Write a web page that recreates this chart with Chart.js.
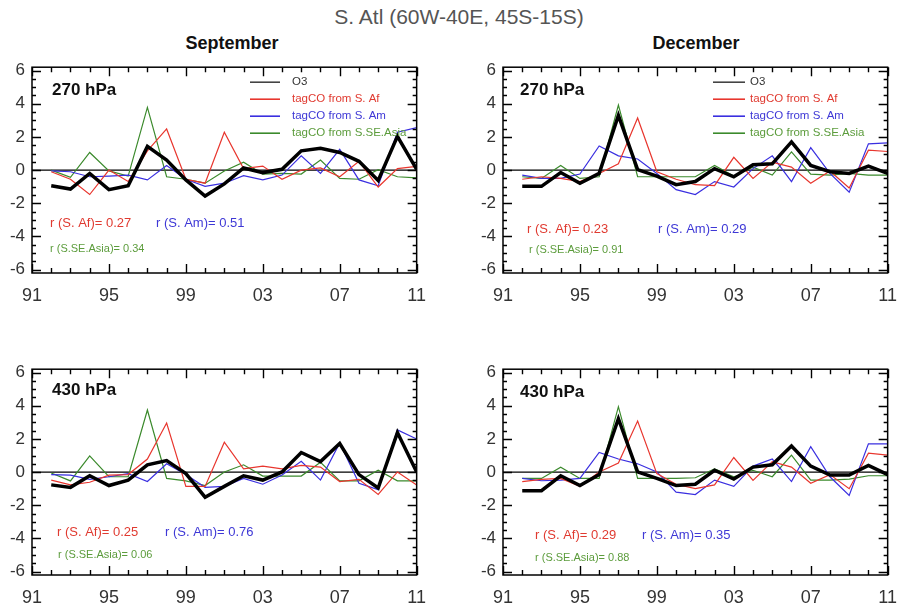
<!DOCTYPE html>
<html>
<head>
<meta charset="utf-8">
<script src="https://cdn.jsdelivr.net/npm/chart.js@4/dist/chart.umd.min.js"></script>
<style>
  html, body { margin: 0; padding: 0; background: #fff; }
  body { width: 898px; height: 611px; position: relative; overflow: hidden;
         font-family: "Liberation Sans", Arial, Helvetica, sans-serif; }
  .title { position: absolute; left: 0; width: 918px; top: 5px; text-align: center;
           font-size: 21px; color: #555; }
  .month { position: absolute; top: 33px; width: 200px; text-align: center;
           font-weight: bold; font-size: 18px; color: #111; }
  canvas { position: absolute; }
</style>
</head>
<body>
<div class="title">S. Atl (60W-40E, 45S-15S)</div>
<div class="month" style="left:132px">September</div>
<div class="month" style="left:596px">December</div>
<canvas id="c0"></canvas>
<canvas id="c1"></canvas>
<canvas id="c2"></canvas>
<canvas id="c3"></canvas>
<script>
// ---- data: anomalies, 1992-2011 ----
const years = [1992,1993,1994,1995,1996,1997,1998,1999,2000,2001,
               2002,2003,2004,2005,2006,2007,2008,2009,2010,2011];

// September, 270 hPa
const sep270O3   = [-0.94,-1.14,-0.20,-1.18,-0.94, 1.43, 0.61,-0.59,-1.56,-0.83, 0.13,-0.15, 0.05, 1.16, 1.31, 1.06, 0.53,-0.63, 2.03, 0.05];
const sep270Af   = [-0.10,-0.55,-1.47, 0.00,-0.69, 1.16, 2.48,-0.55,-0.79, 2.28, 0.09, 0.24,-0.55, 0.00, 0.13,-0.40, 0.53,-1.02, 0.09, 0.22];
const sep270Am   = [-0.05,-0.10,-0.40,-0.36,-0.30,-0.59, 0.28,-0.55,-0.98,-0.79,-0.34,-0.59,-0.30, 0.86,-0.20, 1.25,-0.59,-0.94, 2.28, 2.56];
const sep270Asia = [ 0.00,-0.44, 1.06,-0.05,-0.36, 3.78,-0.40,-0.55,-0.79,-0.05, 0.48,-0.24,-0.20,-0.24, 0.61,-0.50,-0.55, 0.03,-0.40,-0.47];

// December, 270 hPa
const dec270O3   = [-0.98,-0.98,-0.15,-0.79,-0.20, 3.29, 0.03,-0.36,-0.88,-0.69, 0.09,-0.40, 0.32, 0.38, 1.70, 0.28,-0.10,-0.20, 0.24,-0.20];
const dec270Af   = [-0.55,-0.40,-0.50,-0.69,-0.20, 0.38, 3.14,-0.10,-0.55,-0.88,-0.94, 0.77,-0.50, 0.48, 0.18,-0.79,-0.05,-1.08, 1.20, 1.12];
const dec270Am   = [-0.30,-0.50,-0.50,-0.24, 1.45, 0.86, 0.67,-0.20,-1.18,-1.47,-0.69,-1.02, 0.09, 0.86,-0.69, 1.35,-0.20,-1.33, 1.58, 1.64];
const dec270Asia = [-0.40,-0.50, 0.28,-0.50,-0.40, 3.92,-0.40,-0.40,-0.40,-0.40, 0.28,-0.36, 0.18,-0.30, 1.10,-0.24,-0.30,-0.20,-0.30,-0.30];

// September, 430 hPa
const sep430O3   = [-0.77,-0.92,-0.22,-0.81,-0.48, 0.44, 0.69,-0.09,-1.51,-0.86,-0.22,-0.48, 0.01, 1.18, 0.63, 1.72,-0.15,-0.96, 2.38, 0.01];
const sep430Af   = [-0.48,-0.77,-0.61,-0.18,-0.15, 0.79, 2.96,-0.86,-0.86, 1.80, 0.20, 0.36, 0.20, 0.40, 0.30,-0.57,-0.44,-1.35, 0.01,-0.77];
const sep430Am   = [-0.15,-0.18,-0.44,-0.28,-0.09,-0.57, 0.50,-0.15,-0.92,-0.86,-0.38,-0.73,-0.18, 0.65,-0.48, 1.76,-0.67,-1.06, 2.54, 1.99];
const sep430Asia = [-0.05,-0.53, 0.98,-0.28,-0.28, 3.74,-0.38,-0.53,-0.81, 0.01, 0.44,-0.24,-0.24,-0.24, 0.59,-0.53,-0.53, 0.11,-0.53,-0.53];

// December, 430 hPa
const dec430O3   = [-1.12,-1.12,-0.22,-0.81,-0.15, 3.22, 0.01,-0.38,-0.81,-0.73, 0.11,-0.42, 0.30, 0.44, 1.57, 0.36,-0.18,-0.18, 0.40,-0.15];
const dec430Af   = [-0.57,-0.44,-0.38,-0.86, 0.01, 0.55, 3.08,-0.09,-0.73,-1.00,-0.77, 0.88,-0.50, 0.63, 0.30,-0.67,-0.15,-1.00, 1.14, 1.02];
const dec430Am   = [-0.38,-0.52,-0.48,-0.38, 1.18, 0.79, 0.50, 0.01,-1.21,-1.35,-0.48,-0.86, 0.36, 0.79,-0.57, 1.53,-0.28,-1.41, 1.70, 1.70];
const dec430Asia = [-0.38,-0.38, 0.30,-0.38,-0.38, 3.94,-0.38,-0.38,-0.38,-0.34, 0.20,-0.28, 0.11,-0.28, 1.02,-0.48,-0.48,-0.42,-0.22,-0.22];

// correlation coefficients with O3, per panel (Sep 270, Dec 270, Sep 430, Dec 430)
const corrAf   = [0.27, 0.23, 0.25, 0.29];
const corrAm   = [0.51, 0.29, 0.76, 0.35];
const corrAsia = [0.34, 0.91, 0.06, 0.88];

const levelLabels = ['270 hPa', '270 hPa', '430 hPa', '430 hPa'];
const seriesNames = ['O3', 'tagCO from S. Af', 'tagCO from S. Am', 'tagCO from S.SE.Asia'];
const xTicks = [1991, 1995, 1999, 2003, 2007, 2011];
const yTicks = [-6, -4, -2, 0, 2, 4, 6];

// ---- appearance ----
const FONT = '"Liberation Sans", Arial, Helvetica, sans-serif';
const lineColors = ['#000000', '#e8362e', '#3a2fe0', '#3b8a2c'];
const textColors = ['#333333', '#e03a30', '#3e38d6', '#5c9c3c'];
const lineWidths = [3.5, 1.2, 1.2, 1.2];

const AXIS_W = 32, PAD_TOP = 10, PAD_RIGHT = 16, AXIS_H = 36;
const BOX_W = 390, BOX_H = 213;

// plot-box origin and text placement (relative to the box) for each panel
const panels = [
  { box: [32, 60],  series: [sep270O3, sep270Af, sep270Am, sep270Asia], legend: { line: [218, 248], text: 260 },
    level: [20, 23], rAf: [18, 156], rAm: [124, 156], rAsia: [18, 182] },
  { box: [503, 60], series: [dec270O3, dec270Af, dec270Am, dec270Asia], legend: { line: [210, 242], text: 247 },
    level: [17, 23], rAf: [24, 162], rAm: [155, 162], rAsia: [26, 183] },
  { box: [32, 362], series: [sep430O3, sep430Af, sep430Am, sep430Asia], legend: null,
    level: [20, 21], rAf: [25, 163], rAm: [133, 163], rAsia: [26, 186] },
  { box: [503, 362], series: [dec430O3, dec430Af, dec430Am, dec430Asia], legend: null,
    level: [17, 23], rAf: [32, 166], rAm: [139, 166], rAsia: [32, 189] }
];

// box, inward tick marks, zero line, legend and annotations
const framePlugin = {
  id: 'frame',
  beforeDatasetsDraw(chart) {
    const { ctx, chartArea: a, scales: { y } } = chart;
    const y0 = y.getPixelForValue(0);
    ctx.save();
    ctx.strokeStyle = '#000';
    ctx.lineWidth = 1.4;
    ctx.beginPath();
    ctx.moveTo(a.left, y0);
    ctx.lineTo(a.right, y0);
    ctx.stroke();
    ctx.restore();
  },
  afterDraw(chart, args, opts) {
    const { ctx, chartArea: a, scales: { x, y } } = chart;
    ctx.save();
    ctx.strokeStyle = '#000';
    ctx.lineWidth = 1.5;
    ctx.strokeRect(a.left, a.top, a.right - a.left, a.bottom - a.top);

    ctx.beginPath();
    for (let yr = 1991; yr <= 2011; yr++) {
      const px = Math.round(x.getPixelForValue(yr)) + 0.5;
      const len = (yr - 1991) % 4 === 0 ? 9 : 5;
      ctx.moveTo(px, a.bottom); ctx.lineTo(px, a.bottom - len);
      ctx.moveTo(px, a.top);    ctx.lineTo(px, a.top + len);
    }
    for (let v = -6; v <= 6; v += 0.5) {
      const py = Math.round(y.getPixelForValue(v)) + 0.5;
      const len = v % 2 === 0 ? 9 : 4;
      ctx.moveTo(a.left, py);  ctx.lineTo(a.left + len, py);
      ctx.moveTo(a.right, py); ctx.lineTo(a.right - len, py);
    }
    ctx.lineWidth = 1.4;
    ctx.stroke();

    const L = a.left, T = a.top;
    ctx.textBaseline = 'middle';
    ctx.textAlign = 'left';

    // pressure level
    ctx.fillStyle = '#111';
    ctx.font = 'bold 17px ' + FONT;
    ctx.fillText(opts.level, L + opts.pos.level[0], T + opts.pos.level[1]);

    // legend
    if (opts.pos.legend) {
      const lg = opts.pos.legend;
      chart.data.datasets.forEach((ds, i) => {
        const yy = T + 15 + i * 17;
        ctx.strokeStyle = i === 0 ? '#444' : ds.borderColor;
        ctx.lineWidth = 1.6;
        ctx.beginPath();
        ctx.moveTo(L + lg.line[0], yy);
        ctx.lineTo(L + lg.line[1], yy);
        ctx.stroke();
        ctx.fillStyle = textColors[i];
        ctx.font = '11.5px ' + FONT;
        ctx.fillText(ds.label, L + lg.text, yy);
      });
    }

    // correlations
    ctx.font = '13px ' + FONT;
    ctx.fillStyle = textColors[1];
    ctx.fillText('r (S. Af)= ' + opts.r[0].toFixed(2), L + opts.pos.rAf[0], T + opts.pos.rAf[1]);
    ctx.fillStyle = textColors[2];
    ctx.fillText('r (S. Am)= ' + opts.r[1].toFixed(2), L + opts.pos.rAm[0], T + opts.pos.rAm[1]);
    ctx.font = '11px ' + FONT;
    ctx.fillStyle = textColors[3];
    ctx.fillText('r (S.SE.Asia)= ' + opts.r[2].toFixed(2), L + opts.pos.rAsia[0], T + opts.pos.rAsia[1]);
    ctx.restore();
  }
};

panels.forEach((p, k) => {
  const cv = document.getElementById('c' + k);
  const W = AXIS_W + BOX_W + PAD_RIGHT, H = PAD_TOP + BOX_H + AXIS_H;
  cv.width = W; cv.height = H;
  cv.style.width = W + 'px'; cv.style.height = H + 'px';
  cv.style.left = (p.box[0] - AXIS_W) + 'px';
  cv.style.top = (p.box[1] - PAD_TOP) + 'px';

  new Chart(cv, {
    type: 'line',
    data: {
      datasets: p.series.map((vals, i) => ({
        label: seriesNames[i],
        data: years.map((yr, j) => ({ x: yr, y: vals[j] })),
        borderColor: lineColors[i],
        borderWidth: lineWidths[i],
        pointRadius: 0,
        tension: 0,
        fill: false,
        borderJoinStyle: 'miter'
      }))
    },
    options: {
      responsive: false,
      animation: false,
      events: [],
      devicePixelRatio: 1,
      layout: { padding: { top: PAD_TOP, right: PAD_RIGHT, left: 0, bottom: 0 } },
      plugins: {
        legend: { display: false },
        tooltip: { enabled: false },
        frame: { level: levelLabels[k], pos: p, r: [corrAf[k], corrAm[k], corrAsia[k]] }
      },
      scales: {
        x: {
          type: 'linear', min: 1991, max: 2011,
          grid: { display: false, drawTicks: false },
          border: { display: false },
          afterBuildTicks: s => { s.ticks = xTicks.map(v => ({ value: v })); },
          afterFit: s => { s.height = AXIS_H; },
          ticks: {
            padding: 12, color: '#333', maxRotation: 0, autoSkip: false,
            font: { family: FONT, size: 18 },
            callback: v => String(v % 100).padStart(2, '0')
          }
        },
        y: {
          type: 'linear', min: -6.2, max: 6.2,
          grid: { display: false, drawTicks: false },
          border: { display: false },
          afterBuildTicks: s => { s.ticks = yTicks.map(v => ({ value: v })); },
          afterFit: s => { s.width = AXIS_W; },
          ticks: {
            padding: 7, color: '#333',
            font: { family: FONT, size: 17 },
            callback: v => String(v)
          }
        }
      }
    },
    plugins: [framePlugin]
  });
});
</script>
</body>
</html>
